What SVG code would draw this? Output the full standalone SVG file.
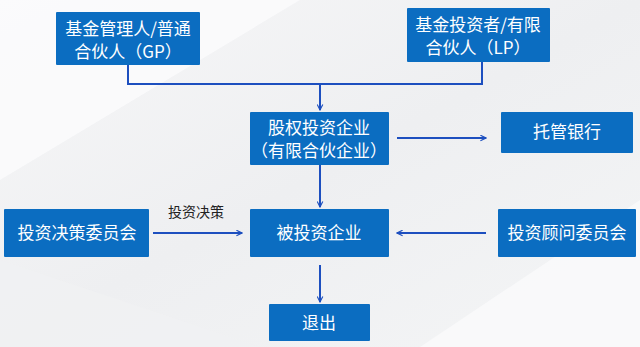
<svg xmlns="http://www.w3.org/2000/svg" width="640" height="347" viewBox="0 0 640 347">
<defs>
<linearGradient id="bg" x1="0" y1="0" x2="1" y2="1">
<stop offset="0" stop-color="#f7f7f8"/>
<stop offset="0.5" stop-color="#eeeff1"/>
<stop offset="1" stop-color="#f4f5f6"/>
</linearGradient>
<marker id="ah" viewBox="0 0 10 10" refX="9" refY="5" markerWidth="7" markerHeight="7" orient="auto" markerUnits="userSpaceOnUse">
<path d="M1,1 L9,5 L1,9" fill="none" stroke="#1d4fbf" stroke-width="1.6"/>
</marker>
<style>
.box{fill:#0b6dc1;}
.t{font-family:"Noto Sans CJK SC","Noto Sans",sans-serif;font-size:17px;fill:#ffffff;text-anchor:middle;}
.lbl{font-family:"Noto Sans CJK SC","Noto Sans",sans-serif;font-size:14px;fill:#222222;text-anchor:middle;}
.c{fill:none;stroke:#1d4fbf;stroke-width:2;marker-end:url(#ah);}
.cl{fill:none;stroke:#1d4fbf;stroke-width:2;}
</style>
</defs>
<rect width="640" height="347" fill="url(#bg)"/>
<polygon points="0,0 300,0 0,180" fill="#fbfbfc" opacity="0.8"/>
<polygon points="420,347 640,200 640,347" fill="#fafafb" opacity="0.8"/>
<polygon points="0,260 260,347 0,347" fill="#f0f1f3" opacity="0.8"/>
<g id="connectors">
<polyline class="cl" points="128,65 128,84 320,84"/>
<polyline class="c" points="482,62 482,84 320,84 320,110"/>
<line class="c" x1="320" y1="165" x2="320" y2="207"/>
<line class="c" x1="397" y1="138" x2="486" y2="138"/>
<line class="c" x1="153" y1="233" x2="242" y2="233"/>
<line class="c" x1="486" y1="233" x2="397" y2="233"/>
<line class="c" x1="320" y1="265" x2="320" y2="302"/>
<text class="lbl" x="196" y="217">投资决策</text>
</g>
<g id="gp"><rect class="box" x="56" y="12" width="144" height="53" rx="1"/>
<text class="t" x="128" y="35">基金管理人/普通</text><text class="t" x="128" y="58">合伙人（GP）</text></g>
<g id="lp"><rect class="box" x="407" y="8" width="143" height="54" rx="1"/>
<text class="t" x="478" y="31">基金投资者/有限</text><text class="t" x="478" y="54">合伙人（LP）</text></g>
<g id="equity"><rect class="box" x="250" y="112" width="139" height="53" rx="1"/>
<text class="t" x="319" y="134">股权投资企业</text><text class="t" x="319" y="157">（有限合伙企业）</text></g>
<g id="bank"><rect class="box" x="501" y="112" width="132" height="41" rx="1"/>
<text class="t" x="567" y="138">托管银行</text></g>
<g id="decision"><rect class="box" x="4" y="209" width="145" height="48" rx="1"/>
<text class="t" x="77" y="239">投资决策委员会</text></g>
<g id="invested"><rect class="box" x="250" y="209" width="139" height="48" rx="1"/>
<text class="t" x="319" y="239">被投资企业</text></g>
<g id="advisory"><rect class="box" x="498" y="209" width="138" height="48" rx="1"/>
<text class="t" x="567" y="239">投资顾问委员会</text></g>
<g id="exit"><rect class="box" x="269" y="304" width="101" height="37" rx="1"/>
<text class="t" x="319" y="329">退出</text></g>
</svg>
